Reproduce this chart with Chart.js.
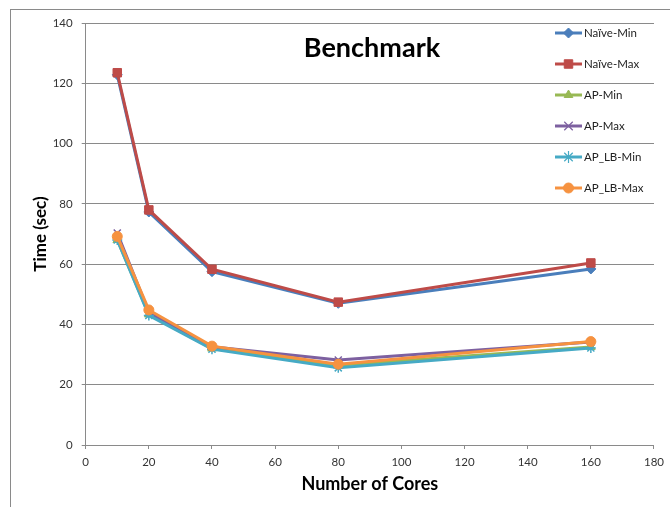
<!DOCTYPE html>
<html>
<head>
<meta charset="utf-8">
<script src="https://cdn.jsdelivr.net/npm/chart.js@4/dist/chart.umd.min.js"></script>
<style>
  html, body { margin: 0; padding: 0; background: #ffffff; }
  #wrap { width: 670px; height: 507px; position: relative; }
</style>
</head>
<body>
<div id="wrap"><canvas id="c" width="670" height="507"></canvas></div>
<script>
// ---- data ----
const cores = [10, 20, 40, 80, 160];
const seriesNames = ["Naïve-Min", "Naïve-Max", "AP-Min", "AP-Max", "AP_LB-Min", "AP_LB-Max"];
const naiveMin = [122.8, 77.3, 57.5, 47.0, 58.4];
const naiveMax = [123.5, 78.0, 58.3, 47.4, 60.4];
const apMin    = [68.0, 43.3, 32.0, 26.5, 32.5];
const apMax    = [70.3, 44.0, 32.6, 28.2, 34.2];
const apLbMin  = [68.0, 43.0, 31.8, 25.6, 32.2];
const apLbMax  = [69.2, 44.8, 32.8, 26.8, 34.3];
const xTicks = [0, 20, 40, 60, 80, 100, 120, 140, 160, 180];
const yTicks = [0, 20, 40, 60, 80, 100, 120, 140];
const chartTitle = "Benchmark";
const xTitle = "Number of Cores";
const yTitle = "Time (sec)";

// ---- styles ----
const colors  = ["#4A7EBB", "#BE4B48", "#98B954", "#7D60A0", "#46AAC5", "#F69240"];
const markers = ["rectRot", "rect", "triangle", "crossRot", "star", "circle"];
const radii   = [5, 6, 5, 5, 5, 5];
const FONT = "Lato, 'Liberation Sans', sans-serif";
const GRID = "#8a8a8a";

const allValues = [naiveMin, naiveMax, apMin, apMax, apLbMin, apLbMax];

const datasets = allValues.map((vals, i) => ({
  label: seriesNames[i],
  data: cores.map((c, j) => ({ x: c, y: vals[j] })),
  borderColor: colors[i],
  backgroundColor: colors[i],
  borderWidth: 3,
  pointStyle: markers[i],
  pointRadius: radii[i],
  pointBackgroundColor: colors[i],
  pointBorderColor: colors[i],
  pointBorderWidth: (markers[i] === "crossRot" || markers[i] === "star") ? 1.5 : 1,
  tension: 0,
  showLine: true,
  fill: false,
  order: allValues.length - i
}));

const framePlugin = {
  id: "frame",
  beforeDraw(chart) {
    const ctx = chart.ctx;
    ctx.save();
    ctx.fillStyle = "#ffffff";
    ctx.fillRect(0, 0, chart.width, chart.height);
    ctx.strokeStyle = GRID;
    ctx.lineWidth = 1;
    ctx.strokeRect(10.5, 9.5, 1000, 1000);
    ctx.restore();
  }
};

const overlayPlugin = {
  id: "overlay",
  afterDraw(chart) {
    const ctx = chart.ctx;
    ctx.save();
    // title
    ctx.fillStyle = "#000000";
    ctx.font = "bold 27px " + FONT;
    ctx.textAlign = "center";
    ctx.textBaseline = "middle";
    ctx.fillText(chartTitle, 372, 48);
    // legend
    const lx0 = 555, lx1 = 582, ly0 = 33, dy = 31;
    chart.data.datasets.forEach((ds, i) => {
      const y = ly0 + i * dy;
      ctx.strokeStyle = ds.borderColor;
      ctx.lineWidth = 3;
      ctx.beginPath();
      ctx.moveTo(lx0, y);
      ctx.lineTo(lx1, y);
      ctx.stroke();
      const thin = ds.pointStyle === "crossRot" || ds.pointStyle === "star";
      ctx.fillStyle = ds.pointBackgroundColor;
      ctx.strokeStyle = ds.pointBorderColor;
      ctx.lineWidth = thin ? 1.2 : ds.pointBorderWidth;
      Chart.helpers.drawPoint(ctx, {
        pointStyle: ds.pointStyle,
        radius: thin ? 6 : ds.pointRadius,
        rotation: 0,
        borderWidth: thin ? 1.2 : ds.pointBorderWidth
      }, (lx0 + lx1) / 2, y);
      ctx.fillStyle = "#222222";
      ctx.font = "11.5px " + FONT;
      ctx.textAlign = "left";
      ctx.textBaseline = "middle";
      ctx.fillText(ds.label, lx1 + 2, y);
    });
    ctx.restore();
  }
};

new Chart(document.getElementById("c"), {
  type: "scatter",
  data: { datasets },
  plugins: [framePlugin, overlayPlugin],
  options: {
    responsive: false,
    animation: false,
    devicePixelRatio: 1,
    layout: { padding: { left: 0, right: 13, top: 23, bottom: 0 } },
    plugins: {
      legend: { display: false },
      title: { display: false },
      tooltip: { enabled: false }
    },
    scales: {
      x: {
        type: "linear",
        min: 0, max: 180,
        afterBuildTicks(scale) { scale.ticks = xTicks.map(v => ({ value: v })); },
        afterFit(scale) { scale.height = 62; },
        grid: { drawOnChartArea: false, drawTicks: true, tickLength: 4, color: GRID, lineWidth: 1 },
        border: { display: true, color: GRID, width: 1 },
        ticks: { color: "#333333", font: { family: FONT, size: 11.5 }, padding: 6, maxRotation: 0, autoSkip: false },
        title: { display: true, text: xTitle, color: "#000000", font: { family: FONT, size: 18, weight: "bold" }, padding: { top: 0, bottom: 12 } }
      },
      y: {
        type: "linear",
        min: 0, max: 140,
        afterBuildTicks(scale) { scale.ticks = yTicks.map(v => ({ value: v })); },
        afterFit(scale) { scale.width = 85.7; },
        grid: { drawOnChartArea: true, drawTicks: true, tickLength: 4, color: GRID, lineWidth: 1 },
        border: { display: true, color: GRID, width: 1 },
        ticks: { color: "#333333", font: { family: FONT, size: 11.5 }, padding: 9, autoSkip: false },
        title: { display: true, text: yTitle, color: "#000000", font: { family: FONT, size: 17, weight: "bold" }, padding: { top: 30, bottom: 0 } }
      }
    }
  }
});
</script>
</body>
</html>
